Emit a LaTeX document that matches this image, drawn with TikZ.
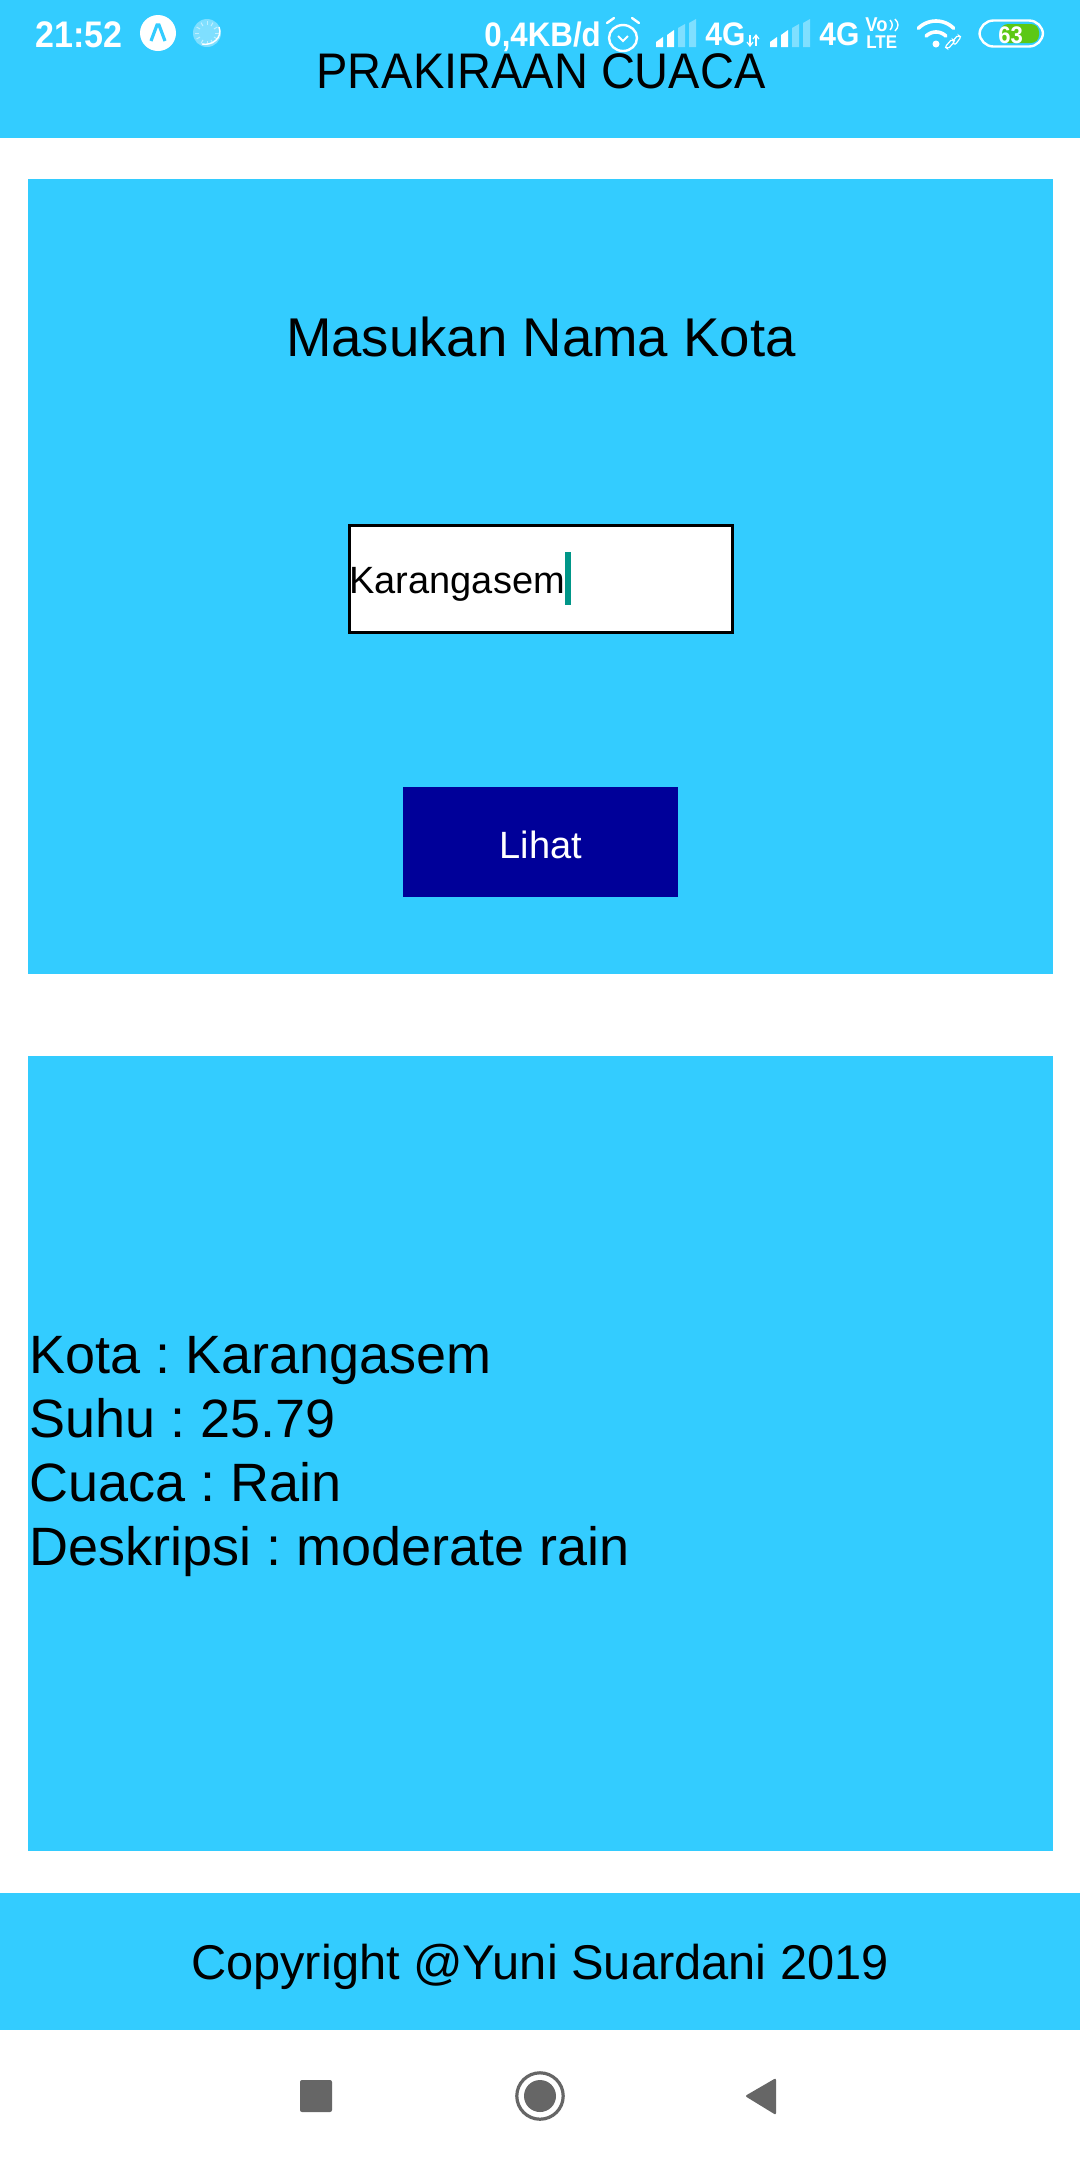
\documentclass[tikz,border=0pt]{standalone}
\usepackage{fontspec}
\setmainfont{Liberation Sans}
\newfontfamily\statusfont[FakeStretch=0.92]{Liberation Sans}
\newfontfamily\narrowfont[FakeStretch=0.94]{Liberation Sans}
\definecolor{skyapp}{HTML}{33CCFF}
\definecolor{navybtn}{HTML}{000099}
\definecolor{cursorgreen}{HTML}{009688}
\definecolor{battgreen}{HTML}{5CC814}
\definecolor{navgrey}{HTML}{666666}
\definecolor{paleblue}{HTML}{7FDFFF}
\tikzset{
	panel/.style={fill=skyapp},
	bigtext/.style={anchor=base west,inner sep=0pt,font=\fontsize{27}{32}\selectfont},
	statustext/.style={anchor=base west,inner sep=0pt,text=white,font=\statusfont\bfseries\fontsize{16.3}{18}\selectfont},
}
\begin{document}
\frenchspacing
\begin{tikzpicture}[x=0.5pt,y=-0.5pt]
		\useasboundingbox (0,0) rectangle (1080,2160);
		\fill[white] (0,0) rectangle (1080,2160);
		% blue bands and panels
		\fill[panel] (0,0) rectangle (1080,138);
		\fill[panel] (28,179) rectangle (1053,974);
		\fill[panel] (28,1056) rectangle (1053,1851);
		\fill[panel] (0,1893) rectangle (1080,2030);
		% form
		\node[anchor=base,inner sep=0pt,font=\narrowfont\fontsize{25}{30}\selectfont] (title) at (541,88) {PRAKIRAAN CUACA};
		\node[anchor=base,inner sep=0pt,font=\fontsize{27.3}{32}\selectfont] (prompt) at (541,356) {Masukan Nama Kota};
		\draw[line width=1.5pt,fill=white] (349.5,525.5) rectangle (732.5,632.5);
		\node[anchor=base west,inner sep=0pt,font=\fontsize{19}{24}\selectfont] (city) at (349,593) {Karangasem};
		\fill[cursorgreen] (565,552) rectangle (571,605);
		\fill[navybtn] (403,787) rectangle (678,897);
		\node[text=white,inner sep=0pt,font=\fontsize{19}{22}\selectfont] (seebtn) at (541,845) {Lihat};
		% result
		\node[bigtext] (rkota) at (29,1373) {Kota : Karangasem};
		\node[bigtext] (rsuhu) at (29,1437) {Suhu : 25.79};
		\node[bigtext] (rcuaca) at (29,1501) {Cuaca : Rain};
		\node[bigtext] (rdesk) at (29,1565) {Deskripsi : moderate rain};
		\node[anchor=base,inner sep=0pt,font=\fontsize{24.4}{30}\selectfont] (copy) at (540,1979) {Copyright @Yuni Suardani 2019};
		% status bar left
		\node[statustext,font=\statusfont\bfseries\fontsize{18.5}{20}\selectfont] (clock) at (35,47) {21:52};
		\fill[white] (158,33) circle (18);
		\draw[skyapp,line width=1.6pt] (151,41) -- (157,25) -- (159,25) -- (165,41);
		\fill[paleblue] (207,33) circle (14);
		\draw[white,line width=0.7pt] (219,27) .. controls (223,38) and (212,46) .. (202,44);
		\foreach \a in {0,30,...,330}
			\draw[white,opacity=0.5,line width=0.5pt] ({207+8*cos(\a)},{33+8*sin(\a)}) -- ({207+12*cos(\a)},{33+12*sin(\a)});
		% status bar right
		\node[statustext,font=\statusfont\bfseries\fontsize{17}{18}\selectfont] (data) at (484,46) {0,4KB/d};
		\draw[white,line width=1.2pt] (623,38) ellipse (14 and 13);
		\draw[white,line width=1pt] (618,36) -- (623,41) -- (628,36);
		\draw[white,line width=1.2pt,line cap=round] (607,23) -- (614,18);
		\draw[white,line width=1.2pt,line cap=round] (639,23) -- (632,18);
		\foreach \s in {656,770} {
			\fill[white] (\s,47) -- (\s,42) -- (\s+7,37) -- (\s+7,47) -- cycle;
			\fill[white] (\s+11,47) -- (\s+11,35) -- (\s+18,30) -- (\s+18,47) -- cycle;
			\fill[paleblue] (\s+22,47) -- (\s+22,28) -- (\s+29,24) -- (\s+29,47) -- cycle;
			\fill[paleblue] (\s+33,47) -- (\s+33,23) -- (\s+40,19) -- (\s+40,47) -- cycle;
		}
		\node[statustext] (gone) at (705,45) {4G};
		\node[statustext] (gtwo) at (819,45) {4G};
		\draw[white,line width=0.6pt] (750,35) -- (750,46);
		\draw[white,line width=0.6pt] (756,35) -- (756,46);
		\draw[white,line width=0.6pt] (747,42) -- (750,46) -- (753,42);
		\draw[white,line width=0.6pt] (753,39) -- (756,35) -- (759,39);
		\node[statustext,font=\statusfont\bfseries\fontsize{10}{10}\selectfont] (volte) at (865,31) {Vo};
		\draw[white,line width=0.7pt] (890,20) .. controls (893,23) and (893,27) .. (890,30);
		\draw[white,line width=0.7pt] (895,19) .. controls (899,23) and (899,27) .. (895,31);
		\node[statustext,font=\statusfont\bfseries\fontsize{9.2}{10}\selectfont] (lte) at (866,48) {LTE};
		\foreach \r in {14,25}
			\draw[white,line width=1.8pt,line cap=round,domain=-45:45,smooth,variable=\x] plot ({936+\r*sin(\x)},{46-\r*cos(\x)});
		\fill[white] (936,44) circle (3.5);
		\draw[white,line width=0.6pt,rounded corners=1pt] (945,47) -- (952,39) -- (955,41) -- (948,49) -- cycle;
		\draw[white,line width=0.6pt,rounded corners=1pt] (952,42) -- (958,35) -- (961,37) -- (955,45) -- cycle;
		\draw[white,line width=1.2pt,rounded corners=7pt] (979.5,20.5) rectangle (1043,46.5);
		\fill[battgreen,rounded corners=4pt] (1000,24) rectangle (1039,43);
		\node[statustext,font=\statusfont\bfseries\fontsize{12}{14}\selectfont] (batt) at (998,43) {63};
		% navigation bar
		\fill[navgrey,rounded corners=1pt] (300,2080) rectangle (332,2112);
		\draw[navgrey,line width=1.6pt] (540,2096) circle (23.2);
		\fill[navgrey] (540,2096) circle (16);
		\fill[navgrey,rounded corners=1pt] (745,2096) -- (776,2078) -- (776,2115) -- cycle;
	\end{tikzpicture}
\end{document}
